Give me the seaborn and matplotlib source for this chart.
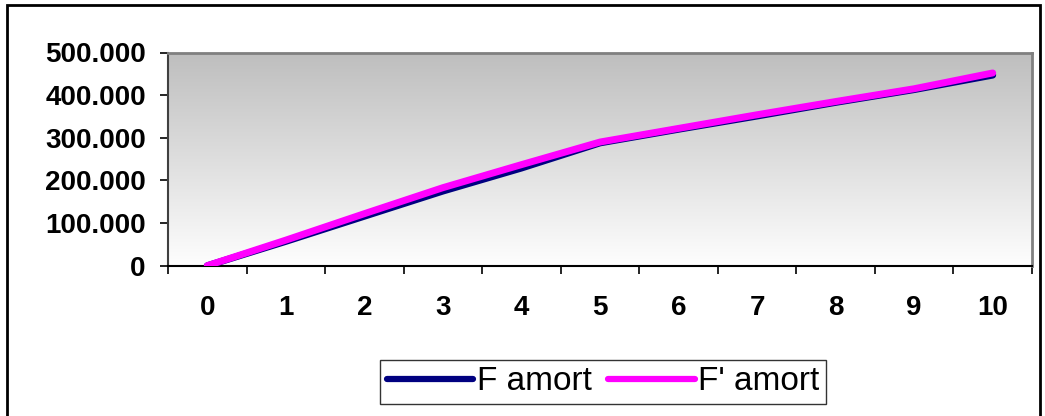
import numpy as np
import pandas as pd
import matplotlib
matplotlib.use("Agg")
import matplotlib.pyplot as plt
import seaborn as sns
from matplotlib.ticker import FuncFormatter, FixedLocator
from matplotlib.patches import Rectangle
from matplotlib.lines import Line2D

# ---- data ----
periods = [0, 1, 2, 3, 4, 5, 6, 7, 8, 9, 10]
f_amort = [0, 57000, 116000, 175000, 229000, 288000, 320000, 351000, 383000, 413000, 447000]
f2_amort = [0, 60000, 122000, 183000, 237000, 290000, 322000, 354000, 385000, 415000, 452000]
series_names = ["F amort", "F' amort"]
y_ticks = [0, 100000, 200000, 300000, 400000, 500000]

df = pd.DataFrame({
    "period": periods * 2,
    "value": f_amort + f2_amort,
    "series": [series_names[0]] * len(periods) + [series_names[1]] * len(periods),
})

sns.set_theme(style="white")
plt.rcParams["font.family"] = ["Liberation Sans", "DejaVu Sans"]
plt.rcParams["text.color"] = "black"
plt.rcParams["xtick.color"] = "black"
plt.rcParams["ytick.color"] = "black"

fig = plt.figure(figsize=(10.45, 4.16), dpi=100)
ax = fig.add_axes([168 / 1045, 1 - 265.7 / 416, (1032 - 168) / 1045, (265.7 - 52.5) / 416])

# gradient background
grad = np.linspace(0, 1, 256).reshape(-1, 1)
ax.imshow(grad, extent=[0, 1, 0, 1], transform=ax.transAxes, aspect="auto",
          cmap=matplotlib.colors.LinearSegmentedColormap.from_list("g", ["#bebebe", "#fefefe"]),
          zorder=0, origin="upper")

sns.lineplot(data=df, x="period", y="value", hue="series",
             palette={series_names[0]: "#000080", series_names[1]: "#ff00ff"},
             linewidth=5, ax=ax, legend=False, zorder=3,
             solid_capstyle="round", solid_joinstyle="round")

ax.set_xlim(-0.5, 10.5)
ax.set_ylim(0, 500000)
ax.set_xlabel("")
ax.set_ylabel("")

# x: labels at centres, tick marks at boundaries
ax.xaxis.set_major_locator(FixedLocator(periods))
ax.set_xticklabels([str(p) for p in periods])
ax.xaxis.set_minor_locator(FixedLocator([p - 0.5 for p in periods] + [10.5]))
ax.tick_params(axis="x", which="major", length=0, pad=21, labelsize=20, labelcolor="black")
ax.tick_params(axis="x", which="minor", length=6, width=1.2, color="black", direction="out", bottom=True)
for lab in ax.get_xticklabels():
    lab.set_fontweight("bold")

ax.set_yticks(y_ticks)
ax.yaxis.set_major_formatter(FuncFormatter(lambda v, p: "0" if v == 0 else f"{int(v):,}".replace(",", ".")))
ax.tick_params(axis="y", which="major", length=6, width=1.2, color="black", direction="out", left=True,
               pad=10, labelsize=20, labelcolor="black")
for lab in ax.get_yticklabels():
    lab.set_fontweight("bold")

for side in ["top", "right"]:
    ax.spines[side].set_color("#808080")
    ax.spines[side].set_linewidth(2)
ax.spines["left"].set_color("#404040")
ax.spines["left"].set_linewidth(1.5)
ax.spines["bottom"].set_color("black")
ax.spines["bottom"].set_linewidth(1.5)

# legend
handles = [Line2D([], [], color="#000080", linewidth=4.5, solid_capstyle="round"),
           Line2D([], [], color="#ff00ff", linewidth=4.5, solid_capstyle="round")]
leg = fig.legend(handles, series_names, loc="center", bbox_to_anchor=(603 / 1045, 1 - 382 / 416),
                 ncol=2, fontsize=24, frameon=True, fancybox=False, handlelength=2.6,
                 handletextpad=0.1, columnspacing=0.5, borderpad=0.2, borderaxespad=0)
leg.get_frame().set_edgecolor("black")
leg.get_frame().set_linewidth(1.0)
for t in leg.get_texts():
    t.set_color("black")

# outer chart border
fig.patches.append(Rectangle((7 / 1045, -0.1), (1040 - 7) / 1045, 1.1 - 5.5 / 416,
                             transform=fig.transFigure, fill=False, edgecolor="black", linewidth=2))

fig.savefig("out.png", dpi=100)
